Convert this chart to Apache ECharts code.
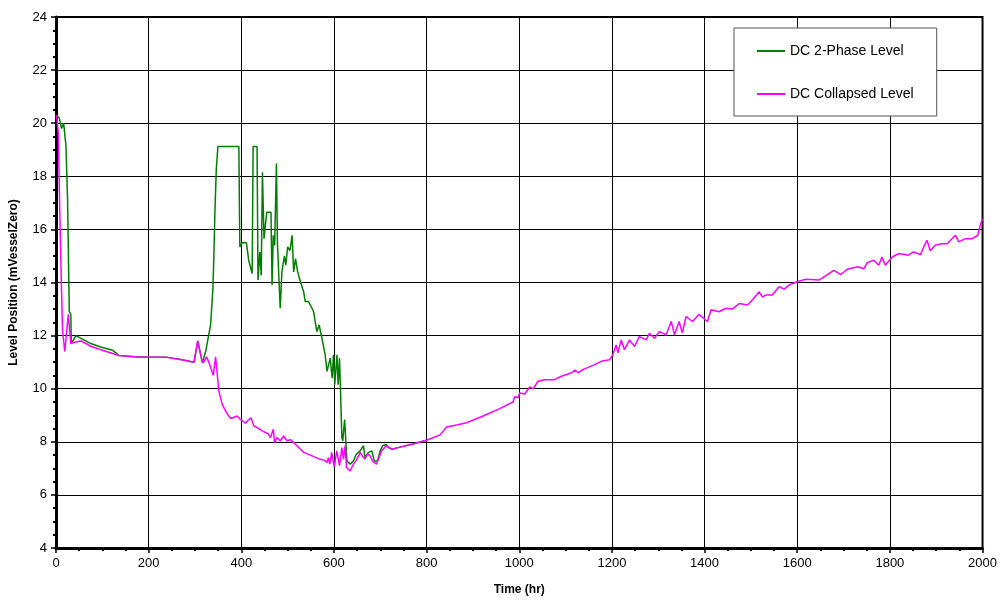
<!DOCTYPE html>
<html>
<head>
<meta charset="utf-8">
<script src="https://cdn.jsdelivr.net/npm/echarts@6/dist/echarts.min.js"></script>
<style>html,body{margin:0;padding:0;background:#fff}#c{width:1000px;height:601px}</style>
</head>
<body>
<div id="c"></div>
<script>
const seriesNames = ['DC 2-Phase Level', 'DC Collapsed Level'];
const xTicks = [0, 200, 400, 600, 800, 1000, 1200, 1400, 1600, 1800, 2000];
const yTicks = [4, 6, 8, 10, 12, 14, 16, 18, 20, 22, 24];

const tTwoPhase = [0,7,12,16.5,21.5,25,28.7,32,33,43,75,100,122,136,170,201,240,269,298,306,316,323,333.7,338.7,340.8,343,346,349.5,394.7,396.8,402,411,416,420,423.4,425.5,434,436,440,443,445.6,449,452,455,464,466.4,469,472,475.8,478,482,484,487.6,493,496,500,505,509.6,513,517,521.7,527.5,534.6,538,545,552.6,556,563,568,574,581,585,592,596,599,601.7,606.5,609,612,614,617,619,623,626,628,635,642,648,656.6,663.7,667,674.5,681.8,687,694,699.7,705,712.6,717.6,725,742.7,770,800];
const lvlTwoPhase = [20.3,20.2,19.8,20.0,19.15,17.1,12.9,12.8,11.7,12.0,11.7,11.55,11.45,11.25,11.2,11.18,11.18,11.1,11.0,11.8,10.97,11.4,12.4,13.77,15.0,16.65,18.27,19.12,19.12,15.34,15.5,15.5,14.83,14.83,14.34,19.12,19.12,14.09,15.15,14.27,18.15,15.65,16.15,16.65,16.65,13.9,15.78,15.4,18.48,15.46,15.46,13.03,14.4,15.0,14.65,15.34,15.2,15.78,14.4,14.9,14.4,14.03,13.65,13.28,13.28,13.03,12.9,12.15,12.4,11.9,11.28,10.65,11.15,10.4,11.28,10.15,11.28,10.15,11.15,10.03,8.16,8.03,8.84,7.9,7.28,7.16,7.28,7.53,7.66,7.85,7.4,7.6,7.66,7.28,7.28,7.66,7.85,7.9,7.78,7.72,7.8,7.92,8.06];

const tCollapsed = [0,2,5,9,14,19,26.5,32,40,54,75,100,136,170,201,240,269,298,306,314,318,325,332,339.5,344.5,351.6,359,369.6,377,391,398,409,415,421,427,437.7,445,452,458,463,469,472,477,484,491.5,499,506,513,520,534.6,552.6,570.5,580,585,588,591,595,600.6,606,612,617,620.6,624,627,631,635,642,648,656.6,662,667,672,678,684,692,697,703,712.6,725,742.7,770,800,829,843,865,886,922,958,975,986.6,990,997.5,1001,1012,1022.6,1030,1040.5,1055,1076,1091,1112,1120,1127,1137,1159,1177,1195,1202,1209,1213,1220,1227,1238,1249,1259,1274,1281,1292,1302,1317,1328,1335,1345,1352,1360,1374,1388,1406,1414,1431,1446,1460,1474.7,1492.6,1503,1517.8,1525,1532,1546,1560.8,1572,1582,1600,1618,1647,1661,1679,1694,1708,1730,1744,1751,1765,1776,1783,1790,1805,1819,1840,1851,1866,1873,1880,1887,1898,1912,1923,1934,1941.5,1948.6,1963,1977.6,1990,1995,2000];
const lvlCollapsed = [20.3,20.2,19.6,15.9,12.2,11.4,12.8,11.7,11.75,11.8,11.6,11.45,11.25,11.2,11.18,11.18,11.1,11.0,11.8,11.15,10.97,11.2,10.9,10.5,11.2,9.9,9.4,9.05,8.88,8.97,8.84,8.7,8.82,8.9,8.6,8.5,8.41,8.35,8.3,8.16,8.47,7.97,8.16,8.03,8.22,8.03,8.08,7.97,7.85,7.6,7.47,7.34,7.3,7.22,7.4,7.16,7.6,7.05,7.66,7.1,7.78,7.35,7.85,7.03,7.1,6.9,7.16,7.3,7.6,7.45,7.35,7.55,7.47,7.25,7.16,7.4,7.66,7.85,7.72,7.8,7.92,8.06,8.26,8.56,8.63,8.72,8.97,9.25,9.4,9.5,9.7,9.66,9.84,9.8,10.07,10.0,10.28,10.34,10.34,10.47,10.59,10.7,10.6,10.72,10.88,11.03,11.09,11.28,11.65,11.35,11.84,11.47,11.84,11.59,11.96,11.84,12.09,11.9,12.15,12.03,12.53,12.03,12.53,12.1,12.72,12.53,12.8,12.53,12.97,12.9,13.03,13.0,13.21,13.15,13.34,13.65,13.45,13.53,13.53,13.84,13.75,13.9,14.03,14.12,14.09,14.25,14.46,14.3,14.5,14.59,14.52,14.75,14.84,14.65,14.96,14.65,14.96,15.09,15.03,15.15,15.05,15.34,15.59,15.2,15.4,15.46,15.46,15.65,15.78,15.53,15.65,15.65,15.78,16.15,16.4];

const pairs = (xs, ys) => xs.map((x, i) => [x, ys[i]]);
const FONT = "'Liberation Sans', Arial, sans-serif";

const chart = echarts.init(document.getElementById('c'), null, {renderer: 'canvas'});
chart.setOption({
  animation: false,
  backgroundColor: '#fff',
  grid: {left: 55, right: 15, top: 17, bottom: 50, show: true, borderColor: '#000', borderWidth: 2, containLabel: false},
  legend: {
    data: seriesNames,
    orient: 'vertical',
    left: 734, top: 28,
    backgroundColor: '#fff',
    borderColor: '#555', borderWidth: 1,
    padding: [16, 23, 15, 22],
    itemWidth: 28, itemHeight: 14, itemGap: 29,
    itemStyle: {color: 'transparent', borderWidth: 0, opacity: 0},
    lineStyle: {width: 2},
    textStyle: {fontFamily: FONT, fontSize: 14, color: '#000'}
  },
  xAxis: {
    type: 'value', min: xTicks[0], max: xTicks[xTicks.length - 1], interval: 200,
    name: 'Time (hr)', nameLocation: 'middle', nameGap: 36,
    nameTextStyle: {fontFamily: FONT, fontSize: 12, fontWeight: 'bold', color: '#000'},
    axisLine: {show: true, onZero: false, lineStyle: {color: '#000', width: 3}},
    axisTick: {show: true, length: 5, lineStyle: {color: '#000', width: 1.5}},
    minorTick: {show: true, splitNumber: 4, length: 3, lineStyle: {color: '#000', width: 2}},
    axisLabel: {fontFamily: FONT, fontSize: 13, color: '#000', margin: 9, formatter: v => String(v)},
    splitLine: {show: true, lineStyle: {color: '#000', width: 1}}
  },
  yAxis: {
    type: 'value', min: yTicks[0], max: yTicks[yTicks.length - 1], interval: 2,
    name: 'Level Position (mVesselZero)', nameLocation: 'middle', nameGap: 36,
    nameTextStyle: {fontFamily: FONT, fontSize: 12, fontWeight: 'bold', color: '#000'},
    axisLine: {show: true, onZero: false, lineStyle: {color: '#000', width: 3}},
    axisTick: {show: true, length: 5, lineStyle: {color: '#000', width: 1.5}},
    minorTick: {show: true, splitNumber: 4, length: 3, lineStyle: {color: '#000', width: 2}},
    axisLabel: {fontFamily: FONT, fontSize: 13, color: '#000', margin: 9, formatter: v => String(v)},
    splitLine: {show: true, lineStyle: {color: '#000', width: 1}}
  },
  series: [
    {name: seriesNames[0], type: 'line', data: pairs(tTwoPhase, lvlTwoPhase), symbol: 'none',
     lineStyle: {color: '#008000', width: 1.5}, itemStyle: {color: '#008000'}, z: 2},
    {name: seriesNames[1], type: 'line', data: pairs(tCollapsed, lvlCollapsed), symbol: 'none',
     lineStyle: {color: '#FF00FF', width: 1.5}, itemStyle: {color: '#FF00FF'}, z: 3}
  ]
});
</script>
</body>
</html>
